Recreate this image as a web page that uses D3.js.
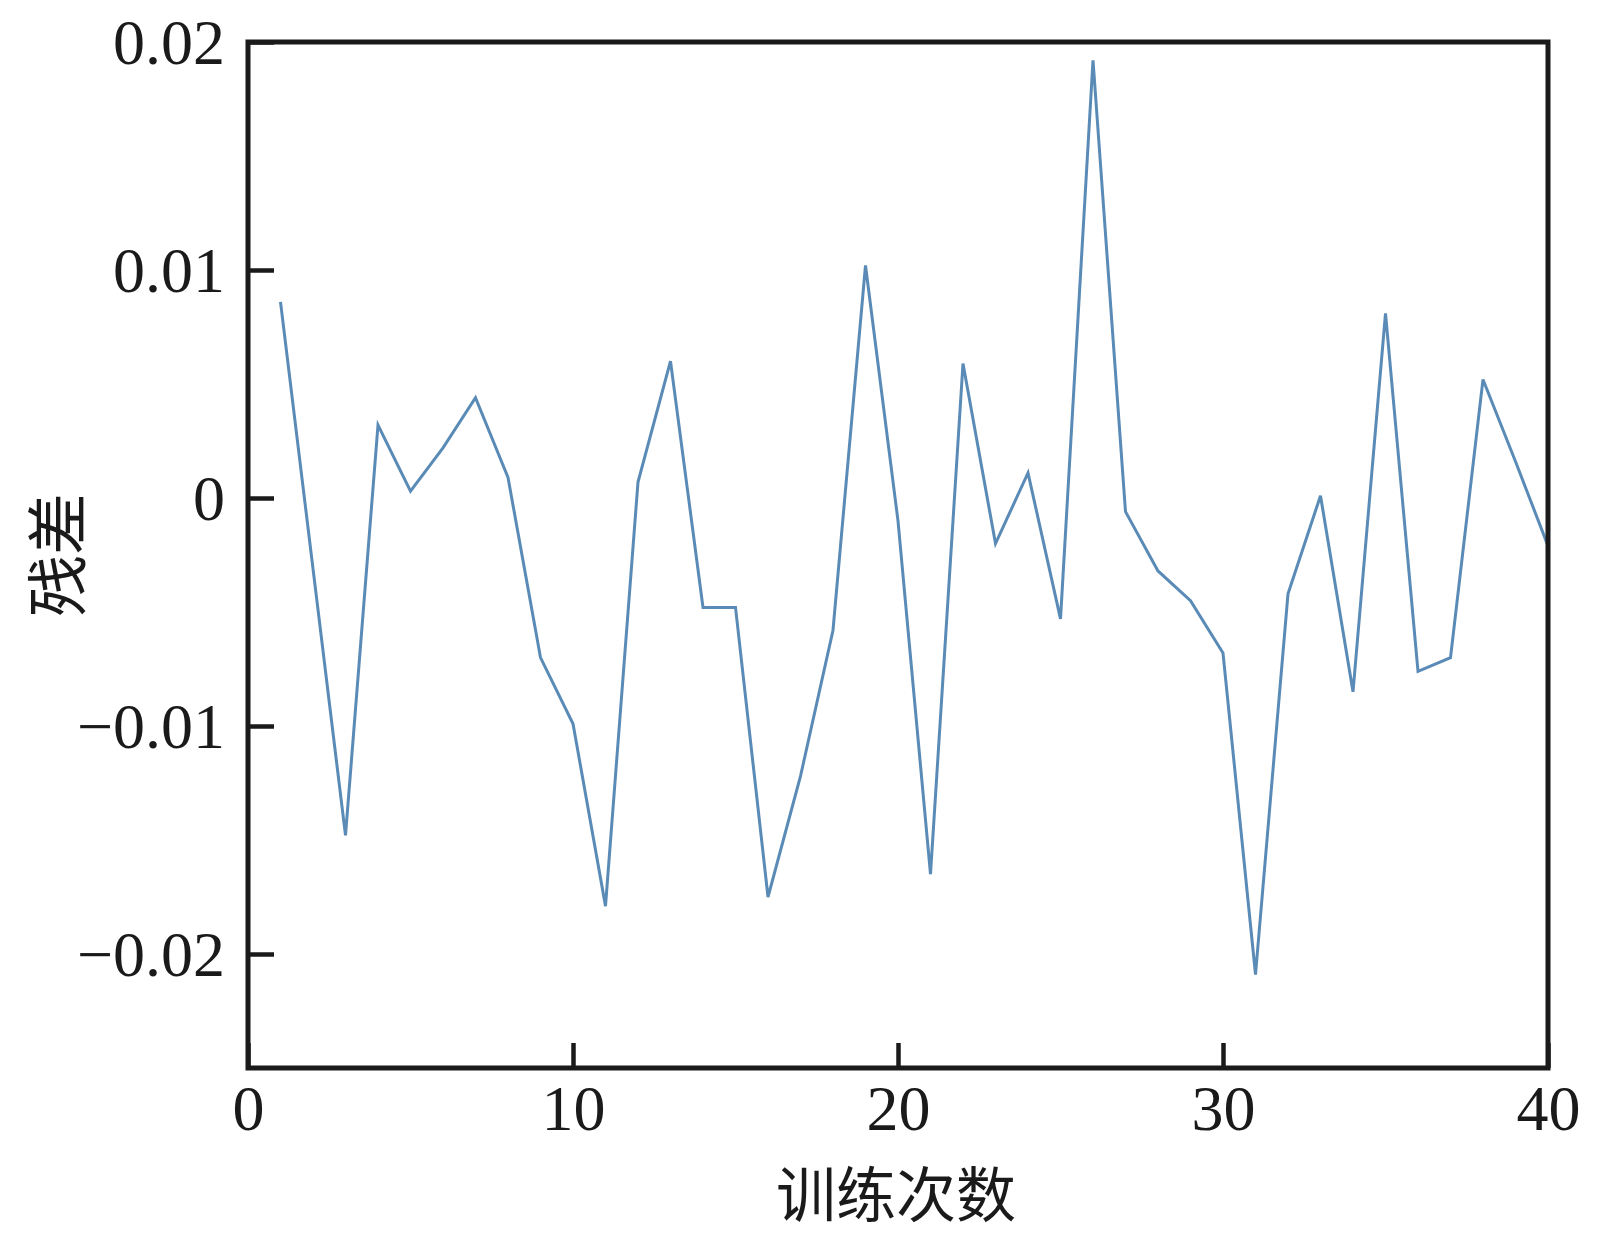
<!DOCTYPE html>
<html>
<head>
<meta charset="utf-8">
<script src="https://cdn.jsdelivr.net/npm/d3@7/dist/d3.min.js"></script>
<style>
  html, body { margin: 0; padding: 0; background: #fff; }
  svg { display: block; }
</style>
</head>
<body>
<svg id="chart" width="1600" height="1241"></svg>
<script>
// ---- data ----
const iterations = d3.range(1, 41);
const residuals = [
  0.0086, -0.0031, -0.0148, 0.0032, 0.0003, 0.0022, 0.0044, 0.0009, -0.0070, -0.0099,
  -0.0179, 0.0007, 0.0060, -0.0048, -0.0048, -0.0175, -0.0122, -0.0058, 0.0102, -0.0010,
  -0.0165, 0.0059, -0.0020, 0.0011, -0.0053, 0.0192, -0.0006, -0.0032, -0.0045, -0.0068,
  -0.0209, -0.0042, 0.0001, -0.0085, 0.0081, -0.0076, -0.0070, 0.0052, 0.0016, -0.0021
];
const xTicks = [0, 10, 20, 30, 40];
const yTicks = [0.02, 0.01, 0, -0.01, -0.02];
const xTitle = "训练次数";
const yTitle = "残差";

// ---- layout ----
const W = 1600, H = 1241;
const margin = { left: 248, right: 52, top: 42, bottom: 173 };
const iw = W - margin.left - margin.right;
const ih = H - margin.top - margin.bottom;

const svg = d3.select("#chart");
const g = svg.append("g").attr("transform", `translate(${margin.left},${margin.top})`);

const x = d3.scaleLinear().domain([0, 40]).range([0, iw]);
const y = d3.scaleLinear().domain([-0.025, 0.02]).range([ih, 0]);

const numFont = "'Liberation Serif', 'Times New Roman', serif";
const cjkFont = "'Noto Sans CJK SC', sans-serif";
const fmt = v => v === 0 ? "0" : (v < 0 ? "\u2212" + d3.format(".2f")(-v) : d3.format(".2f")(v));

// line
const line = d3.line().x((d, i) => x(iterations[i])).y(d => y(d));
g.append("path")
  .datum(residuals)
  .attr("fill", "none")
  .attr("stroke", "#5a8bb6")
  .attr("stroke-width", 3)
  .attr("stroke-linejoin", "miter")
  .attr("d", line);

// axes
const xAxis = d3.axisBottom(x).tickValues(xTicks).tickFormat(d3.format("d"))
  .tickSizeInner(-25).tickSizeOuter(0).tickPadding(17);
const yAxis = d3.axisLeft(y).tickValues(yTicks).tickFormat(fmt)
  .tickSizeInner(-26).tickSizeOuter(0).tickPadding(23);

const gx = g.append("g").attr("transform", `translate(0,${ih})`).call(xAxis);
const gy = g.append("g").call(yAxis);

[gx, gy].forEach(a => {
  a.select(".domain").remove();
  a.selectAll(".tick line").attr("stroke", "#1a1a1a").attr("stroke-width", 4.5);
  a.selectAll(".tick text")
    .attr("fill", "#1a1a1a")
    .style("font-family", numFont)
    .style("font-size", "64px");
});
gy.selectAll(".tick text").attr("dy", "0.34em");

// frame
g.append("rect")
  .attr("x", 0).attr("y", 0)
  .attr("width", iw).attr("height", ih)
  .attr("fill", "none")
  .attr("stroke", "#1a1a1a")
  .attr("stroke-width", 5);

// titles
svg.append("text")
  .attr("x", margin.left + iw / 2 - 2)
  .attr("y", 1190)
  .attr("text-anchor", "middle")
  .attr("dominant-baseline", "central")
  .style("font-family", cjkFont)
  .style("font-size", "60px")
  .attr("fill", "#1a1a1a")
  .text(xTitle);

svg.append("text")
  .attr("transform", `translate(54,${margin.top + ih / 2}) rotate(-90)`)
  .attr("text-anchor", "middle")
  .attr("dominant-baseline", "central")
  .style("font-family", cjkFont)
  .style("font-size", "62px")
  .attr("fill", "#1a1a1a")
  .text(yTitle);
</script>
</body>
</html>
